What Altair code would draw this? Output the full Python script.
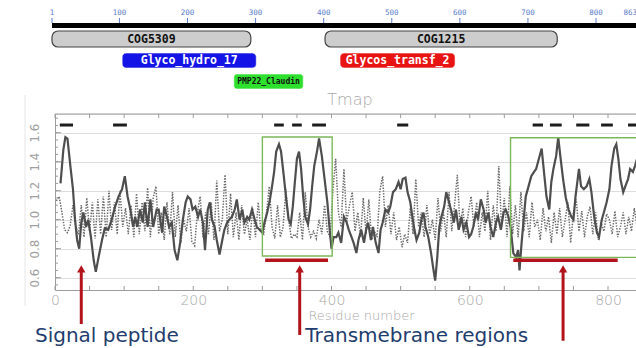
import altair as alt
import pandas as pd

# ---------------- protein ruler and domain hits ----------------
seq_length = 863
ruler_ticks = [1, 100, 200, 300, 400, 500, 600, 700, 800]
ruler_end_tick = [863]

domain_names = ["COG5309", "COG1215", "Glyco_hydro_17", "Glycos_transf_2", "PMP22_Claudin"]
domain_start = [1, 402, 104, 424, 268]
domain_end = [293, 743, 301, 593, 370]
domain_track = [0, 0, 1, 1, 2]
domain_fill = ["#cdcdcd", "#cdcdcd", "#1414e6", "#e81414", "#2ee02e"]
domain_label_color = ["#111111", "#111111", "#ffffff", "#ffffff", "#111111"]

# ---------------- Tmap propensity profiles ----------------
solid_res = [8, 12, 15, 18, 22, 26, 29, 32, 35, 38, 41, 45, 48, 52, 56, 59, 63, 68, 72, 77,
             82, 87, 92, 97, 101, 105, 109, 113, 116, 119, 123, 127, 130, 134, 138, 142, 147, 150, 155, 158,
             162, 165, 169, 173, 177, 181, 185, 189, 192, 196, 199, 203, 207, 210, 214, 217, 221, 224, 227, 231,
             234, 238, 242, 245, 249, 252, 256, 260, 263, 267, 271, 274, 278, 281, 285, 289, 292, 296, 300, 303,
             307, 311, 314, 317, 320, 324, 327, 331, 335, 338, 341, 344, 347, 350, 353, 356, 359, 362, 366, 369,
             372, 375, 379, 382, 386, 390, 394, 397, 400, 403, 407, 410, 414, 418, 422, 425, 429, 432, 436, 439,
             443, 447, 450, 453, 457, 460, 464, 468, 471, 474, 478, 482, 485, 489, 493, 497, 500, 503, 507, 510,
             514, 517, 520, 523, 527, 530, 533, 536, 540, 544, 547, 550, 553, 556, 559, 563, 566, 570, 574, 577,
             580, 584, 588, 591, 595, 599, 602, 605, 609, 612, 616, 620, 623, 627, 630, 634, 638, 641, 645, 649,
             652, 656, 659, 663, 667, 670, 672, 675, 678, 681, 685, 689, 693, 696, 700, 704, 708, 711, 715, 718,
             721, 725, 728, 731, 735, 739, 743, 747, 750, 753, 758, 761, 765, 769, 773, 776, 780, 784, 787, 791,
             794, 798, 802, 805, 809, 812, 815, 818, 822, 825, 829, 832, 836, 839, 842]
solid_val = [1.25, 1.48, 1.57, 1.56, 1.38, 1.21, 1.00, 0.86, 0.80, 0.98, 1.05, 0.95, 1.00, 0.88, 0.72, 0.64, 0.74, 0.86, 0.94, 0.93,
             1.00, 1.09, 1.16, 1.21, 1.30, 1.16, 1.07, 0.95, 1.02, 0.95, 1.07, 0.98, 1.12, 0.95, 1.14, 0.95, 1.07, 1.07, 0.91, 1.09,
             1.02, 0.95, 0.98, 0.79, 0.72, 0.84, 1.00, 1.12, 1.16, 1.14, 1.07, 1.09, 1.02, 1.07, 0.98, 0.79, 1.07, 1.12, 1.00, 0.95,
             0.86, 0.76, 0.86, 0.93, 0.98, 1.00, 1.02, 1.07, 1.14, 1.00, 1.07, 0.98, 1.02, 1.00, 1.07, 1.00, 0.95, 0.93, 0.91, 0.98,
             1.05, 1.14, 1.23, 1.33, 1.47, 1.52, 1.47, 1.30, 1.12, 1.00, 0.97, 1.09, 1.26, 1.42, 1.47, 1.35, 1.16, 1.02, 0.97, 1.07,
             1.23, 1.37, 1.47, 1.56, 1.44, 1.28, 1.12, 0.95, 0.80, 0.88, 0.88, 0.91, 0.84, 1.02, 0.98, 0.93, 0.88, 0.84, 0.77, 0.86,
             0.93, 0.84, 0.93, 0.98, 0.86, 0.95, 0.84, 0.77, 0.93, 0.98, 1.07, 1.05, 1.09, 1.19, 1.21, 1.26, 1.21, 1.28, 1.29, 1.19,
             1.12, 1.02, 0.93, 0.86, 0.91, 1.00, 1.05, 0.95, 0.88, 0.77, 0.67, 0.58, 0.74, 0.95, 1.02, 1.09, 1.19, 1.12, 1.05, 0.98,
             1.07, 0.93, 1.02, 0.93, 0.98, 0.88, 0.90, 0.95, 1.05, 1.00, 1.14, 1.07, 0.98, 1.05, 0.95, 0.88, 0.98, 1.02, 0.93, 1.05,
             1.07, 1.02, 0.95, 0.77, 0.74, 0.79, 0.65, 0.84, 1.00, 1.16, 1.23, 1.30, 1.33, 1.35, 1.42, 1.49, 1.30, 1.16, 1.07, 1.26,
             1.35, 1.44, 1.57, 1.44, 1.28, 1.15, 1.07, 1.02, 1.00, 1.16, 1.35, 1.23, 1.21, 1.23, 1.28, 1.19, 1.02, 0.91, 0.88, 1.00,
             1.05, 1.12, 1.21, 1.37, 1.49, 1.52, 1.42, 1.28, 1.19, 1.23, 1.28, 1.35, 1.33, 1.37, 1.42]

# second profile, one reading every 4 residues starting at residue 2
dotted_first, dotted_step = 2, 4
dotted_val = [1.13, 1.16, 1.05, 0.93, 0.91, 0.96, 1.10, 0.95, 0.90, 1.10,
              0.88, 1.15, 0.92, 1.12, 0.87, 1.14, 0.90, 1.16, 0.88, 1.20,
              0.93, 1.12, 0.90, 1.20, 0.95, 1.08, 0.90, 1.10, 0.88, 1.18,
              0.90, 1.12, 0.92, 1.22, 0.88, 1.15, 1.23, 0.90, 1.05, 0.86,
              1.12, 0.90, 1.19, 0.88, 1.10, 0.84, 1.00, 0.92, 1.08, 0.85,
              0.82, 1.05, 1.16, 0.88, 1.05, 0.90, 1.12, 0.86, 1.27, 0.92,
              1.00, 1.31, 0.90, 1.18, 0.88, 1.05, 0.86, 1.10, 0.90, 1.00,
              0.86, 1.08, 0.88, 1.12, 0.92, 0.90, 1.05, 1.23, 0.95, 0.87,
              1.10, 0.88, 0.95, 1.21, 1.00, 0.87, 0.90, 0.88, 1.05, 0.86,
              1.19, 0.95, 0.88, 0.92, 0.87, 1.00, 0.90, 1.10, 0.92, 0.88,
              1.20, 1.42, 1.05, 0.95, 1.35, 0.98, 1.10, 1.19, 0.92, 1.05,
              0.88, 1.15, 0.90, 1.14, 0.86, 0.92, 0.88, 1.20, 1.30, 0.95,
              1.10, 0.90, 1.05, 0.86, 0.95, 0.81, 0.90, 0.84, 1.08, 0.90,
              1.28, 0.95, 1.05, 0.88, 1.10, 0.90, 1.00, 0.86, 1.15, 0.92,
              1.05, 0.88, 1.19, 0.92, 1.10, 1.31, 0.95, 1.08, 0.88, 1.05,
              1.16, 0.95, 1.12, 0.88, 1.05, 0.92, 1.20, 0.86, 1.10, 0.92,
              1.37, 0.95, 1.15, 0.88, 1.23, 0.90, 1.10, 0.88, 1.19, 0.92,
              1.05, 0.88, 1.12, 0.95, 1.00, 0.86, 1.08, 0.92, 1.02, 0.84,
              1.05, 0.90, 1.08, 0.88, 1.00, 1.12, 0.84, 1.05, 1.14, 0.92,
              1.06, 0.88, 1.02, 1.09, 0.90, 1.05, 0.86, 0.98, 0.92, 1.04,
              1.00, 0.90, 1.06, 0.88, 0.95, 1.05, 0.90, 1.02, 0.92, 1.08,
              0.95]

# predicted transmembrane segments (bars along the top of the plot)
tm_pred_start = [7, 84, 317, 343, 372, 495, 691, 716, 754, 790, 829]
tm_pred_end = [26, 104, 331, 357, 392, 511, 706, 733, 773, 807, 850]
tm_pred_level = 1.653

# highlighted transmembrane regions
region_start = [300, 659]
region_end = [401, 880]
region_low = [0.75, 0.74]
region_high = [1.57, 1.565]
region_bar_start = [304, 663]
region_bar_end = [395, 814]
region_bar_level = 0.72

# call-out arrows and their captions
arrow_res = [38, 354, 735]
arrow_tip = [0.66, 0.66, 0.66]
arrow_tail = [0.28, 0.205, 0.165]
caption_text = ["Signal peptide", "Transmebrane regions"]
caption_res = [-29, 362]
caption_level = 0.195

x_tick_values = [0, 50, 100, 150, 200, 250, 300, 350, 400, 450, 500, 550, 600, 650, 700, 750, 800]
y_minor_values = [0.55, 0.60, 0.65, 0.70, 0.75, 0.80, 0.85, 0.90, 0.95, 1.00, 1.05, 1.10,
                  1.15, 1.20, 1.25, 1.30, 1.35, 1.40, 1.45, 1.50, 1.55, 1.60, 1.65, 1.70]
y_major_values = [0.6, 0.8, 1.0, 1.2, 1.4, 1.6]

# ---------------- layout / style ----------------
PLOT_W, PLOT_H = 581, 176
AX = "#9c9c9c"
RED = "#b3141c"
NAVY = "#1f3d6e"
RULER_BLUE = "#5a7ccc"
MONO = "DejaVu Sans Mono"
THIN = "DejaVu Sans"
NARROW = "'Liberation Sans Narrow', 'DejaVu Sans Condensed', 'Liberation Sans', sans-serif"

top_x = alt.Scale(domain=[5.4, 858.7], nice=False, zero=False)
res_x = alt.Scale(domain=[0, 840.5], nice=False, zero=False)
val_y = alt.Scale(domain=[0.515, 1.729], nice=False, zero=False)

# rows of the domain panel, in pixels from the top of the plot frame
TRACK_ROWS = {0: (-83, -67), 1: (-61, -46), 2: (-40, -25)}

domains = pd.DataFrame({
    "name": domain_names, "start": domain_start, "end": domain_end,
    "track": domain_track, "fill": domain_fill, "label": domain_label_color,
})
domains["mid"] = (domains["start"] + domains["end"]) / 2
ruler = pd.DataFrame({"pos": ruler_ticks, "txt": [str(t) for t in ruler_ticks]})
ruler_end = pd.DataFrame({"pos": ruler_end_tick, "txt": [str(t) for t in ruler_end_tick]})
ruler_all = pd.concat([ruler, ruler_end], ignore_index=True)
seq = pd.DataFrame({"start": [1], "end": [seq_length]})

top_layers = [
    alt.Chart(seq).mark_rect(color="#000000").encode(
        x=alt.X("start:Q", scale=top_x, axis=None), x2="end:Q",
        y=alt.value(-91), y2=alt.value(-86)),
    alt.Chart(ruler_all).mark_rule(color=RULER_BLUE, strokeWidth=1).encode(
        x=alt.X("pos:Q", scale=top_x, axis=None), y=alt.value(-96), y2=alt.value(-91)),
    alt.Chart(ruler).mark_text(font=MONO, fontSize=7.5, color=RULER_BLUE, baseline="middle").encode(
        x=alt.X("pos:Q", scale=top_x, axis=None), y=alt.value(-101), text="txt:N"),
    alt.Chart(ruler_end).mark_text(font=MONO, fontSize=7.5, color=RULER_BLUE, baseline="middle",
                                   align="right", dx=-2).encode(
        x=alt.X("pos:Q", scale=top_x, axis=None), y=alt.value(-101), text="txt:N"),
    # panel caption above the profile
    alt.Chart(seq).mark_text(font=THIN, fontSize=16, fontWeight=200, color="#a8a8a8",
                             baseline="middle").encode(
        x=alt.value(295), y=alt.value(-14), text=alt.value("Tmap")),
]

track_style = {
    0: dict(cornerRadius=6, stroke="#444444", strokeWidth=1.2),
    1: dict(cornerRadius=4, stroke="#ffffff", strokeWidth=0.6),
    2: dict(cornerRadius=3, stroke="#ffffff", strokeWidth=0.6),
}
track_font = {0: 11.5, 1: 11.5, 2: 8}
for track, (y0, y1) in TRACK_ROWS.items():
    rows = domains[domains["track"] == track]
    top_layers.append(
        alt.Chart(rows).mark_rect(**track_style[track]).encode(
            x=alt.X("start:Q", scale=top_x, axis=None), x2="end:Q",
            y=alt.value(y0), y2=alt.value(y1),
            fill=alt.Fill("fill:N", scale=None)))
    top_layers.append(
        alt.Chart(rows).mark_text(font=MONO, fontWeight="bold", fontSize=track_font[track],
                                  baseline="middle").encode(
            x=alt.X("mid:Q", scale=top_x, axis=None),
            y=alt.value((y0 + y1) / 2 + 0.5), text="name:N",
            color=alt.Color("label:N", scale=None)))

top = alt.layer(*top_layers)

# ---------------- Tmap plot ----------------
solid = pd.DataFrame({"res": solid_res, "val": solid_val})
dotted = pd.DataFrame({
    "res": [dotted_first + dotted_step * i for i in range(len(dotted_val))],
    "val": dotted_val,
})
tm_pred = pd.DataFrame({"res": tm_pred_start, "e": tm_pred_end, "val": [tm_pred_level] * len(tm_pred_start)})
regions = pd.DataFrame({"res": region_start, "e": region_end, "val": region_low, "hi": region_high})
region_bars = pd.DataFrame({"res": region_bar_start, "e": region_bar_end,
                            "val": [region_bar_level] * len(region_bar_start)})
arrows = pd.DataFrame({"res": arrow_res, "val": arrow_tip, "tail": arrow_tail})
captions = pd.DataFrame({"txt": caption_text, "res": caption_res,
                         "val": [caption_level] * len(caption_text)})
xt = pd.DataFrame({"res": x_tick_values})
yt = pd.DataFrame({"val": y_minor_values})
ytm = pd.DataFrame({"val": y_major_values})

x_axis = alt.Axis(
    values=[0, 200, 400, 600, 800], format="d", tickSize=0, labelPadding=3, labelFlush=False,
    labelFont=THIN, labelFontSize=14, labelFontWeight=200, labelColor="#a8a8a8",
    domainColor=AX, domainWidth=1,
    title="Residue number", titleFont=THIN, titleFontSize=13, titleFontWeight=200,
    titleColor="#a8a8a8", titleX=306, titleY=25, titleBaseline="middle",
)
y_axis = alt.Axis(
    values=y_major_values, format=".1f", tickSize=0, labelPadding=17, labelFlush=False,
    labelAngle=270, labelAlign="center", labelBaseline="alphabetic",
    labelFont=NARROW, labelFontSize=13, labelColor="#a0a0a0",
    domainColor=AX, domainWidth=1, title=None,
)
X = alt.X("res:Q", scale=res_x, axis=x_axis)
Y = alt.Y("val:Q", scale=val_y, axis=y_axis)

bottom_layers = [
    # faint edge of the profile panel
    alt.Chart(xt.head(1)).mark_rule(color="#e6e6e6", strokeWidth=1).encode(
        x=alt.value(-30), y=alt.value(-19), y2=alt.value(192)),
    alt.Chart(dotted).mark_line(color="#6a6a6a", strokeWidth=1.5, strokeDash=[1.4, 1.4]).encode(x=X, y=Y),
    alt.Chart(solid).mark_line(color="#4e4e4e", strokeWidth=2.2).encode(x=X, y=Y),
    alt.Chart(regions).mark_rect(fill=None, stroke="#7cb85a", strokeWidth=1.4).encode(
        x=X, x2="e:Q", y=Y, y2="hi:Q"),
    alt.Chart(region_bars).mark_rule(color=RED, strokeWidth=3.5).encode(x=X, x2="e:Q", y=Y),
    alt.Chart(tm_pred).mark_rule(color="#1c1c1c", strokeWidth=3).encode(x=X, x2="e:Q", y=Y),
    # inward ticks on the frame
    alt.Chart(xt).mark_rule(color=AX, strokeWidth=1).encode(
        x=X, y=alt.value(PLOT_H), y2=alt.value(PLOT_H - 4)),
    alt.Chart(xt).mark_rule(color=AX, strokeWidth=1).encode(
        x=X, y=alt.value(0), y2=alt.value(4)),
    alt.Chart(yt).mark_rule(color=AX, strokeWidth=1).encode(
        y=Y, x=alt.value(0), x2=alt.value(3)),
    alt.Chart(ytm).mark_rule(color=AX, strokeWidth=1).encode(
        y=Y, x=alt.value(0), x2=alt.value(6)),
    alt.Chart(xt.head(1)).mark_rule(color=AX, strokeWidth=1).encode(
        x=alt.value(0), x2=alt.value(PLOT_W), y=alt.value(0)),
    # call-outs
    alt.Chart(arrows).mark_rule(color=RED, strokeWidth=3).encode(x=X, y=Y, y2="tail:Q"),
    alt.Chart(arrows).mark_point(shape="triangle-up", filled=True, size=70, color=RED, opacity=1).encode(
        x=X, y=Y),
    alt.Chart(captions).mark_text(font=THIN, fontSize=20, color=NAVY, align="left",
                                  baseline="middle").encode(x=X, y=Y, text="txt:N"),
]
bottom = alt.layer(*bottom_layers)

chart = alt.layer(top, bottom).resolve_scale(x="independent").properties(
    width=PLOT_W, height=PLOT_H,
    padding={"left": 55, "top": 114, "right": 0, "bottom": 58},
    autosize=alt.AutoSizeParams(type="none"),
).configure_view(stroke=None).configure_axis(grid=False).configure(background="#ffffff")

chart.save("out.html", embed_options={"renderer": "svg", "actions": False})
